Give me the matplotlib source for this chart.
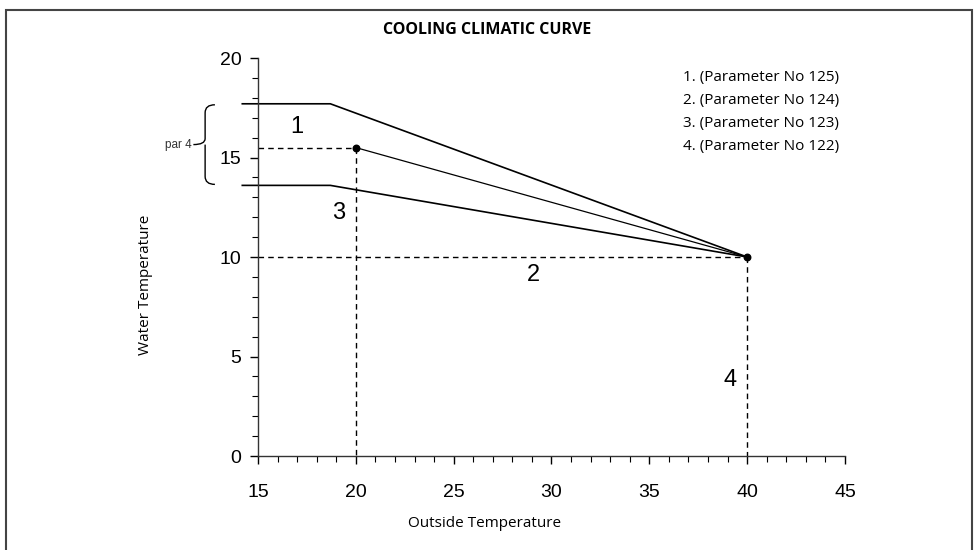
import matplotlib
matplotlib.use('Agg')
import matplotlib.pyplot as plt
from matplotlib.patches import Rectangle
from matplotlib.path import Path
from matplotlib.patches import PathPatch

# curves: flat part then slope down to the common end point
curve1_x = [14.2, 18.7, 40]
curve1_y = [17.7, 17.7, 10]
curve2_x = [20, 40]
curve2_y = [15.5, 10]
curve3_x = [14.2, 18.7, 40]
curve3_y = [13.6, 13.6, 10]

# dashed guide lines
guide_h1 = ([15, 20], [15.5, 15.5])
guide_v1 = ([20, 20], [15.5, 0])
guide_h2 = ([15, 40], [10, 10])
guide_v2 = ([40, 40], [10, 0])

dots_x = [20, 40]
dots_y = [15.5, 10]

region_labels = ['1', '2', '3', '4']
region_x = [17.0, 29.1, 19.1, 39.1]
region_y = [16.55, 9.1, 12.2, 3.8]

legend_lines = ['1. (Parameter No 125)', '2. (Parameter No 124)',
                '3. (Parameter No 123)', '4. (Parameter No 122)']

x_ticks = [15, 20, 25, 30, 35, 40, 45]
y_ticks = [0, 5, 10, 15, 20]

plt.rcParams['font.family'] = ['Liberation Sans', 'DejaVu Sans']

fig = plt.figure(figsize=(9.76, 5.5), dpi=100)
ax = fig.add_axes([0.2643, 0.1709, 0.6015, 0.7236])

ax.plot(curve1_x, curve1_y, color='black', lw=1.2, clip_on=False)
ax.plot(curve2_x, curve2_y, color='black', lw=0.9, clip_on=False)
ax.plot(curve3_x, curve3_y, color='black', lw=1.2, clip_on=False)
for gx, gy in [guide_h1, guide_v1, guide_h2, guide_v2]:
    ax.plot(gx, gy, color='black', lw=1.0, ls=(0, (4, 3)))
ax.scatter(dots_x, dots_y, color='black', s=22, zorder=5, clip_on=False)

for lab, lx, ly in zip(region_labels, region_x, region_y):
    ax.text(lx, ly, lab, fontsize=17, ha='center', va='center')

for i, t in enumerate(legend_lines):
    ax.text(0.724, 0.952 - i * 0.0577, t, transform=ax.transAxes,
            fontsize=11, family='Open Sans', ha='left', va='center')

# curly brace for "par 4"
bx, top, bot = 12.3, 17.65, 13.65
mid = (top + bot) / 2
w = 0.6
verts = [(bx + 0.5, top), (bx, top), (bx, top - 0.4), (bx, mid + 0.3),
         (bx, mid), (bx - w, mid),
         (bx, mid), (bx, mid - 0.3), (bx, bot + 0.4),
         (bx, bot), (bx + 0.5, bot)]
codes = [Path.MOVETO, Path.CURVE3, Path.CURVE3, Path.LINETO,
         Path.CURVE3, Path.CURVE3,
         Path.MOVETO, Path.CURVE3, Path.LINETO,
         Path.CURVE3, Path.CURVE3]
ax.add_patch(PathPatch(Path(verts, codes), fill=False, lw=1.0,
                       edgecolor='black', clip_on=False))
ax.text(bx - w - 0.1, mid, 'par 4', fontsize=8.5, ha='right', va='center',
        color='#333333')

ax.set_xlim(15, 45)
ax.set_ylim(0, 20)
ax.set_xticks(x_ticks)
ax.set_yticks(y_ticks)
ax.set_xticks(range(15, 46), minor=True)
ax.set_yticks(range(0, 21), minor=True)
ax.tick_params(which='major', direction='out', length=6, width=1,
               labelsize=14, pad=14)
ax.tick_params(axis='y', which='major', pad=6)
ax.tick_params(which='minor', direction='out', length=4, width=0.8)
ax.spines['top'].set_visible(False)
ax.spines['right'].set_visible(False)
for s in ['left', 'bottom']:
    ax.spines[s].set_linewidth(1.0)
    ax.spines[s].set_color('#333333')

fig.text(0.496, 0.049, 'Outside Temperature', fontsize=11, family='Open Sans',
         ha='center', va='center')
fig.text(0.149, 0.482, 'Water Temperature', fontsize=11, family='Open Sans',
         rotation=90, ha='center', va='center')
fig.text(0.499, 0.945, 'COOLING CLIMATIC CURVE', fontsize=11.5,
         family='Open Sans', weight='bold', ha='center', va='center')

# outer frame open at the bottom
fig.add_artist(Rectangle((0.0066, -0.05), 0.9898, 1.032, transform=fig.transFigure,
                         fill=False, edgecolor='#444444', lw=1.5))

fig.savefig('out.png', dpi=100)
